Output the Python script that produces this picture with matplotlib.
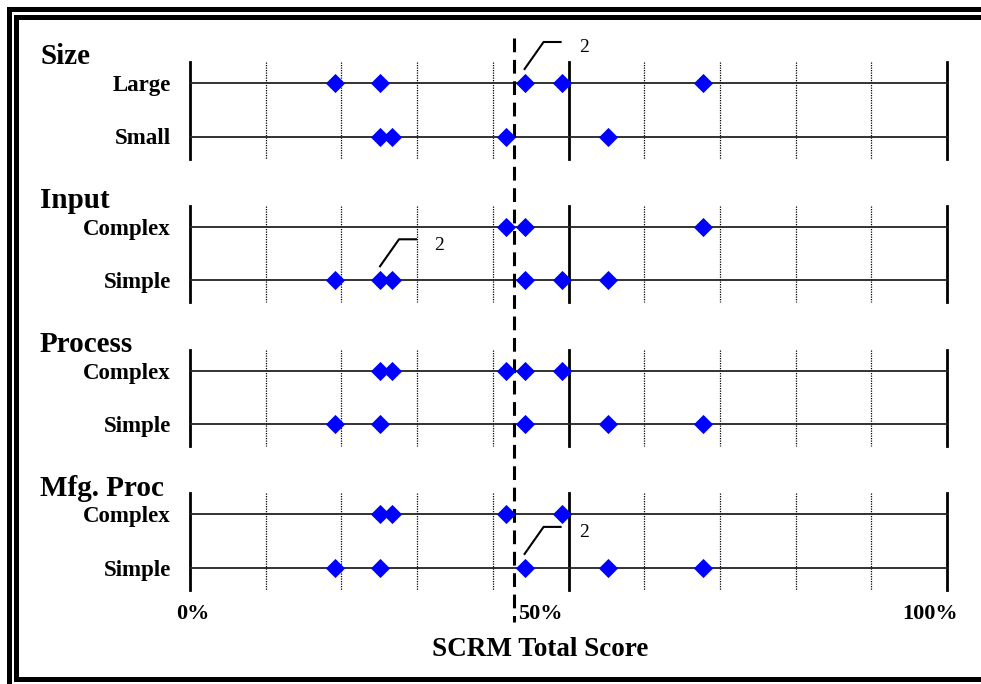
import matplotlib
matplotlib.use('Agg')

import matplotlib.pyplot as plt

# SCRM total score (%) of each program, grouped by attribute
groups = ['Size', 'Input', 'Process', 'Mfg. Proc']
levels = [['Large', 'Small'],
          ['Complex', 'Simple'],
          ['Complex', 'Simple'],
          ['Complex', 'Simple']]
scores = [
    [[19.1, 25.1, 44.2, 49.1, 67.8], [25.1, 26.7, 41.7, 55.2]],
    [[41.7, 44.2, 67.8], [19.1, 25.1, 26.7, 44.2, 49.1, 55.2]],
    [[25.1, 26.7, 41.7, 44.2, 49.1], [19.1, 25.1, 44.2, 55.2, 67.8]],
    [[25.1, 26.7, 41.7, 49.1], [19.1, 25.1, 44.2, 55.2, 67.8]],
]
# points hiding a second one underneath: (group, level, score, count)
stacked = [(0, 0, 44.2, '2'), (1, 1, 25.1, '2'), (3, 1, 44.2, '2')]
mean_score = 42.8

W, H = 981, 684
plt.rcParams['font.family'] = ['Liberation Serif', 'DejaVu Serif']
fig = plt.figure(figsize=(W / 100, H / 100), dpi=100)

# frame axes in pixel units
fr = fig.add_axes([0, 0, 1, 1])
fr.set_xlim(0, W)
fr.set_ylim(H, 0)
fr.axis('off')
fr.plot([8.5, 8.5, W + 5], [H + 5, 9, 9], color='black', lw=3.6, solid_joinstyle='miter')
fr.plot([16, 16, W + 5], [678.5, 17, 17], color='black', lw=3.6, solid_joinstyle='miter')
fr.plot([16, W + 5], [678.5, 678.5], color='black', lw=3.6)

# plot axes: x in percent, y in pixel rows
x0, x1 = 190, 947
ppu = (x1 - x0) / 100.0
ax = fig.add_axes([0, 0, 1, 1], facecolor='none')
ax.set_xlim(-x0 / ppu, (W - x0) / ppu)
ax.set_ylim(H, 0)
ax.axis('off')

row_top = 83
group_gap = 143.8
row_gap = 53.5
for g, name in enumerate(groups):
    y_a = row_top + g * group_gap
    y_b = y_a + row_gap
    ys = [y_a, y_b]
    ytop, ybot = y_a - 21, y_b + 22
    for v in range(10, 100, 10):
        if v == 50:
            continue
        ax.plot([v, v], [ytop, ybot], color='black', lw=0.9, ls=(0, (1, 1)), zorder=1)
    for v in (0, 50, 100):
        ax.plot([v, v], [ytop, ybot], color='black', lw=2, zorder=2)
    ax.text(-150 / ppu, y_a - 26, name, fontsize=21, fontweight='bold',
            ha='left', va='center')
    for lv, y in enumerate(ys):
        ax.plot([0, 100], [y, y], color='#222222', lw=1.3, zorder=2)
        ax.text(-19 / ppu, y + 2.5, levels[g][lv], fontsize=16.5, fontweight='bold',
                ha='right', va='center')
        vals = scores[g][lv]
        ax.plot(vals, [y] * len(vals), ls='none', marker='D', ms=9,
                mfc='#0000ff', mec='#0000ff', mew=0.6, zorder=4)

# leader lines for stacked points
for g, lv, val, txt in stacked:
    y = row_top + g * group_gap + lv * row_gap
    ax.plot([val, val + 19 / ppu, val + 36 / ppu], [y - 14, y - 41, y - 41],
            color='black', lw=1.5, zorder=3)
    ax.text(val + 59 / ppu, y - 35, txt, fontsize=14, ha='center', va='center')

# dashed mean line
ax.plot([mean_score, mean_score], [38, 622], color='black', lw=2.2,
        ls=(0, (4.5, 2.5)), zorder=3)

# axis labels
tick_text = ['0%', '50%', '100%']
tick_pos = [0.4, 46.3, 97.8]
for t, p in zip(tick_text, tick_pos):
    ax.text(p, 614, t, fontsize=16, fontweight='bold', ha='center', va='center')
ax.text(46.2, 649, 'SCRM Total Score', fontsize=19.5, fontweight='bold',
        ha='center', va='center')

fig.savefig('out.png', dpi=100)
